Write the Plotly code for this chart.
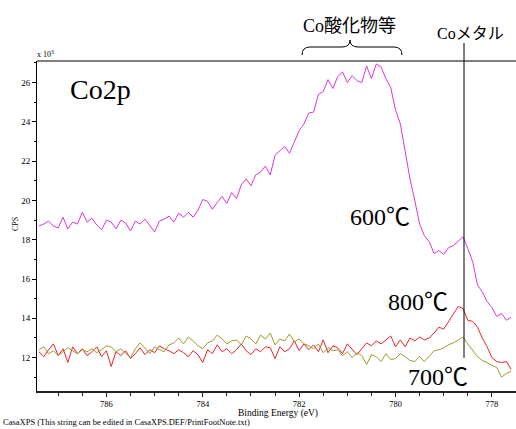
import plotly.graph_objects as go

# Binding energy grid (eV), 0.1 eV step from 787.4 down to 777.6
binding_energy = [round(787.4 - 0.1 * i, 1) for i in range(99)]

# Intensities in units of 10^3 CPS
cps_600C = [
    18.70, 18.80, 18.95, 18.70, 18.60, 19.15, 18.55, 18.90, 18.80, 19.40,
    18.90, 19.10, 18.75, 18.50, 19.00, 18.90, 18.55, 19.00, 18.85, 18.45,
    18.95, 18.80, 19.05, 18.75, 18.40, 18.95, 19.05, 19.20, 18.90, 19.35,
    19.15, 19.40, 19.15, 19.50, 20.05, 19.95, 19.55, 19.90, 20.20, 19.85,
    20.40, 20.10, 20.80, 21.10, 20.75, 21.30, 21.45, 21.75, 21.30, 22.30,
    22.55, 22.75, 22.40, 23.00, 23.55, 23.90, 24.45, 24.50, 25.40, 25.55,
    26.15, 25.70, 26.30, 26.55, 26.00, 26.35, 26.10, 26.00, 26.85, 26.20,
    26.95, 26.80, 26.20, 25.75, 24.60, 23.90, 22.50, 21.10, 20.00, 18.80,
    18.20, 17.90, 17.30, 17.45, 17.25, 17.60, 17.70, 17.95, 18.15, 17.55,
    16.90, 15.70, 15.35, 14.85, 14.55, 14.10, 14.25, 13.90, 14.05,
]
cps_800C = [
    12.30, 12.05, 12.40, 12.70, 12.10, 12.45, 11.75, 12.55, 12.20, 12.45,
    12.10, 12.30, 12.55, 12.05, 12.35, 11.55, 12.30, 12.10, 12.35, 11.95,
    12.20, 12.50, 12.15, 12.40, 12.25, 12.60, 12.45, 12.35, 12.20, 12.40,
    12.25, 12.05, 12.35, 12.15, 11.75, 12.40, 12.20, 12.65, 12.30, 12.45,
    12.20, 12.40, 12.70, 12.35, 12.15, 12.45, 12.30, 12.55, 12.50, 11.95,
    12.55, 12.30, 12.45, 12.85, 12.35, 12.70, 12.40, 12.65, 12.30, 12.90,
    12.25, 12.60, 12.50, 12.20, 12.70, 12.45, 12.15, 12.45, 12.75, 12.60,
    12.85, 12.70, 12.90, 13.10, 12.55, 12.90, 12.55, 13.00, 12.85, 13.05,
    12.90, 13.00, 13.25, 13.55, 13.45, 13.85, 14.20, 14.60, 14.50, 13.90,
    13.85, 13.55, 13.00, 12.55, 12.00, 11.80, 11.75, 11.80, 11.40,
]
cps_700C = [
    12.40, 12.55, 12.20, 12.35, 12.10, 12.30, 12.50, 12.35, 12.20, 12.40,
    12.30, 12.45, 12.25, 12.40, 12.60, 12.55, 12.30, 12.45, 12.20, 12.00,
    12.45, 12.75, 12.50, 12.20, 12.55, 12.40, 12.30, 12.65, 12.75, 13.00,
    12.70, 13.05, 12.85, 12.60, 12.45, 12.75, 12.85, 13.15, 12.95, 12.70,
    12.85, 12.90, 12.65, 13.10, 12.95, 12.70, 13.15, 12.95, 13.25, 12.65,
    12.95, 12.85, 13.20, 12.80, 12.95, 12.70, 12.60, 12.45, 12.70, 12.25,
    12.50, 12.35, 12.40, 12.10, 12.30, 12.00, 12.25, 12.10, 11.65, 12.15,
    12.05, 11.80, 12.20, 11.90, 11.95, 12.20, 12.05, 11.85, 11.80, 12.05,
    11.80, 12.05, 12.35, 12.40, 12.50, 12.65, 12.75, 12.90, 13.05, 12.70,
    12.40, 12.05, 11.85, 11.75, 11.60, 11.50, 11.00, 11.20, 11.30,
]

y_tickvals = [12, 14, 16, 18, 20, 22, 24, 26]
y_ticktext = ["12", "14", "16", "18", "20", "22", "24", "26"]
x_tickvals = [786, 784, 782, 780, 778]
x_ticktext = ["786", "784", "782", "780", "778"]

SERIF = "Liberation Serif, Times New Roman, serif"
CJK = "Noto Sans CJK JP"

fig = go.Figure()
fig.add_trace(go.Scatter(x=binding_energy, y=cps_600C, mode="lines",
                         line=dict(color="#d838d8", width=1), name="600℃"))
fig.add_trace(go.Scatter(x=binding_energy, y=cps_800C, mode="lines",
                         line=dict(color="#e8242a", width=1), name="800℃"))
fig.add_trace(go.Scatter(x=binding_energy, y=cps_700C, mode="lines",
                         line=dict(color="#9c9a2c", width=1), name="700℃"))

fig.update_layout(
    width=516, height=429,
    margin=dict(l=37, r=0, t=61, b=38),
    paper_bgcolor="white", plot_bgcolor="white",
    showlegend=False,
    font=dict(family=SERIF, size=9, color="black"),
)
fig.update_xaxes(
    range=[787.44, 777.5], showgrid=False, zeroline=False,
    showline=True, linecolor="#222", linewidth=1.5,
    ticks="outside", ticklen=4, tickcolor="#222", tickwidth=1,
    tickvals=x_tickvals, ticktext=x_ticktext,
    tickfont=dict(family=SERIF, size=8.5),
    minor=dict(ticks="outside", ticklen=3, dtick=0.5, tick0=778, tickcolor="#222"),
)
fig.update_yaxes(
    range=[10.3, 27.1], showgrid=False, zeroline=False,
    showline=True, linecolor="black", linewidth=1,
    ticks="outside", ticklen=4, tickcolor="black",
    tickvals=y_tickvals, ticktext=y_ticktext,
    tickfont=dict(family=SERIF, size=9),
    minor=dict(ticks="outside", ticklen=2, dtick=1, tick0=0, tickcolor="black"),
)

def px2x(px):
    return (px - 37) / 479.0

def py2y(py):
    return (391 - py) / 330.0

shapes = [
    # top border
    dict(type="line", xref="paper", yref="paper", x0=0, x1=1, y0=1, y1=1,
         line=dict(color="black", width=1)),
    # Co metal marker line
    dict(type="line", xref="paper", yref="paper", x0=px2x(464), x1=px2x(464),
         y0=py2y(358), y1=py2y(43), line=dict(color="black", width=1)),
]
# curly brace over oxide region
bp = [(302, 55), (302, 47), (310, 47), (342, 47), (350, 47), (350, 40),
      (350, 47), (358, 47), (394, 47), (402, 47), (402, 55)]
c = [(px2x(a), py2y(b)) for a, b in bp]
path = (f"M {c[0][0]},{c[0][1]} Q {c[1][0]},{c[1][1]} {c[2][0]},{c[2][1]} "
        f"L {c[3][0]},{c[3][1]} Q {c[4][0]},{c[4][1]} {c[5][0]},{c[5][1]} "
        f"Q {c[6][0]},{c[6][1]} {c[7][0]},{c[7][1]} "
        f"L {c[8][0]},{c[8][1]} Q {c[9][0]},{c[9][1]} {c[10][0]},{c[10][1]}")
shapes.append(dict(type="path", xref="paper", yref="paper", path=path,
                   line=dict(color="black", width=1)))
fig.update_layout(shapes=shapes)

def ann(text, x, y, size, family=SERIF, xanchor="center", angle=0):
    fig.add_annotation(text=text, xref="paper", yref="paper", x=x, y=y,
                       showarrow=False, xanchor=xanchor, yanchor="middle",
                       textangle=angle, font=dict(family=family, size=size, color="black"))

deg = f"<span style='font-family:{CJK}'>℃</span>"
ann("Co2p", px2x(100), py2y(89), 28)
ann("600" + deg, px2x(380), py2y(214), 24)
ann("800" + deg, px2x(418), py2y(299), 24)
ann("700" + deg, px2x(438), py2y(374), 24)
ann(f"Co<span style='font-family:{CJK}'>酸化物等</span>", px2x(349), py2y(24), 18)
ann(f"Co<span style='font-family:{CJK}'>メタル</span>", px2x(470), py2y(32), 16)
ann("x 10<sup>3</sup>", px2x(35), py2y(54), 8, xanchor="left")
ann("CPS", px2x(15), py2y(224), 8, angle=-90)
ann("Binding Energy (eV)", px2x(278), py2y(413), 9.5)
ann("CasaXPS (This string can be edited in CasaXPS.DEF/PrintFootNote.txt)",
    px2x(1), py2y(422), 8.5, xanchor="left")

fig.write_html("out.html", config={"displayModeBar": False},
               post_script="document.body.style.margin='0';document.body.style.padding='0';")
